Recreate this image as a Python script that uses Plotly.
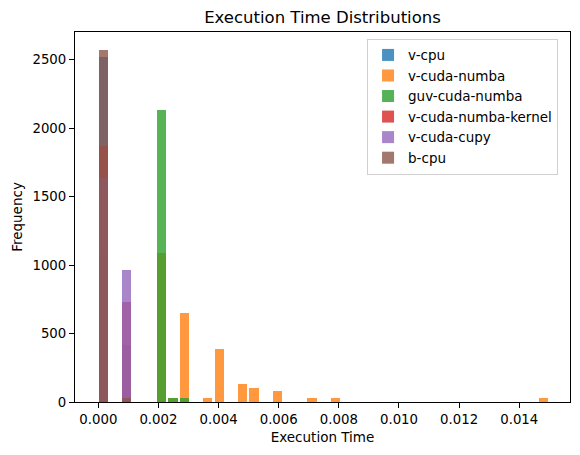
import plotly.graph_objects as go

# Histogram bins shared by all series (execution time in seconds)
bin_start = -0.00002
bin_width = 0.0003853
bar_fraction = 0.8

series_names = ["v-cpu", "v-cuda-numba", "guv-cuda-numba",
                "v-cuda-numba-kernel", "v-cuda-cupy", "b-cpu"]
series_colors = ["#1f77b4", "#ff7f0e", "#2ca02c", "#d62728", "#9467bd", "#8c564b"]

# bin index -> frequency
v_cpu_bins = [0, 2]
v_cpu_counts = [2522, 78]
v_cuda_numba_bins = [0, 5, 6, 7, 9, 10, 12, 13, 15, 18, 20, 38]
v_cuda_numba_counts = [26, 1092, 26, 650, 26, 390, 130, 104, 78, 26, 26, 26]
guv_cuda_numba_bins = [2, 5, 6, 7]
guv_cuda_numba_counts = [416, 2132, 26, 26]
v_cuda_numba_kernel_bins = [0, 2]
v_cuda_numba_kernel_counts = [1872, 728]
v_cuda_cupy_bins = [0, 2]
v_cuda_cupy_counts = [1638, 962]
b_cpu_bins = [0, 2]
b_cpu_counts = [2574, 26]

x_ticks = [0.000, 0.002, 0.004, 0.006, 0.008, 0.010, 0.012, 0.014]
y_ticks = [0, 500, 1000, 1500, 2000, 2500]

all_bins = [v_cpu_bins, v_cuda_numba_bins, guv_cuda_numba_bins,
            v_cuda_numba_kernel_bins, v_cuda_cupy_bins, b_cpu_bins]
all_counts = [v_cpu_counts, v_cuda_numba_counts, guv_cuda_numba_counts,
              v_cuda_numba_kernel_counts, v_cuda_cupy_counts, b_cpu_counts]

font = "DejaVu Sans"

fig = go.Figure()
for name, color, bins, counts in zip(series_names, series_colors, all_bins, all_counts):
    centers = [bin_start + (i + 0.5) * bin_width for i in bins]
    fig.add_trace(go.Bar(
        x=centers,
        y=counts,
        name=name,
        width=bin_width * bar_fraction,
        marker=dict(color=color, line=dict(width=0)),
        opacity=0.8,
    ))

axis_common = dict(
    showline=True, linecolor="black", linewidth=1.1, mirror=True,
    ticks="outside", ticklen=5, tickwidth=1.1, tickcolor="black",
    showgrid=False, zeroline=False,
    tickfont=dict(family=font, size=13.3, color="black"),
)

# page body adds an 8px offset, so the figure is drawn 8px smaller
fig.update_layout(
    width=572, height=447,
    barmode="overlay",
    bargap=0,
    plot_bgcolor="white",
    paper_bgcolor="white",
    font=dict(family=font, color="black"),
    margin=dict(l=65, r=9, t=24, b=53),
    title=dict(text="Execution Time Distributions", x=0.5, xanchor="center",
               xref="paper", y=0.98, yanchor="middle",
               font=dict(family=font, size=16.5, color="black")),
    xaxis=dict(axis_common, range=[-0.000775, 0.015688], tickvals=x_ticks,
               tickformat=".3f",
               title=dict(text="Execution Time", font=dict(family=font, size=13.5), standoff=6)),
    yaxis=dict(axis_common, range=[0, 2703], tickvals=y_ticks,
               title=dict(text="Frequency", font=dict(family=font, size=13.5), standoff=6)),
    legend=dict(x=0.59, y=0.982, xanchor="left", yanchor="top",
                bgcolor="white", bordercolor="#d0d0d0", borderwidth=1,
                font=dict(family=font, size=13.5, color="black"),
                traceorder="normal", itemwidth=30,
                entrywidthmode="pixels", entrywidth=156),
)

fig.write_html("out.html")
